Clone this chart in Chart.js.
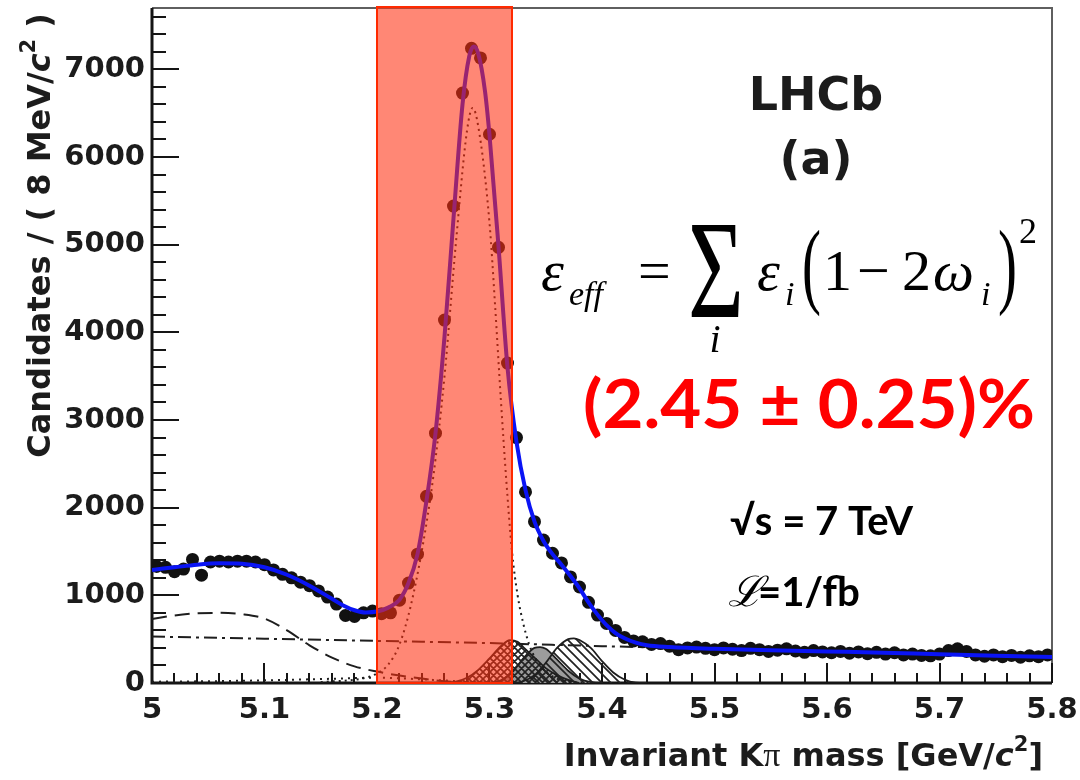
<!DOCTYPE html>
<html>
<head>
<meta charset="utf-8">
<title>B0 → Kπ mass spectrum</title>
<script src="https://cdn.jsdelivr.net/npm/chart.js@4.4.1/dist/chart.umd.min.js"></script>
<style>
  html, body { margin: 0; padding: 0; background: #fff; }
  #massChart { display: block; }
</style>
</head>
<body>
<canvas id="massChart" width="1080" height="780"></canvas>
<script>
// histogram binning (8 MeV bins from 5.0 GeV)
const binLow = 5.0;
const binWidth = 0.008;

// candidates per bin
const candidates = [
    1330, 1320, 1270, 1300, 1410, 1230, 1380, 1390, 1380, 1390, 1390, 1380, 1350,
    1290, 1240, 1200, 1150, 1110, 1050, 980, 900, 770, 760, 800, 820,
    790, 800, 945, 1140, 1470, 2130, 2850, 4140, 5440, 6730, 7240, 7130, 6260, 4970, 3650,
    2800, 2180, 1840, 1630, 1480, 1370, 1210, 1095, 920, 775, 680, 600, 520,
    480, 470, 440, 450, 420, 380, 400, 410, 395, 380, 400, 385, 370, 395, 380, 360,
    375, 390, 365, 350, 370, 355, 345, 360, 340, 355, 335, 350, 330, 345, 320, 330,
    315, 310, 330, 370, 390, 360, 320, 305, 320, 300, 315, 295, 310, 300, 320
];

// total fit
const fitMass = [5.00, 5.02, 5.04, 5.06, 5.08, 5.10, 5.12, 5.14, 5.16, 5.17, 5.18, 5.19, 5.20, 5.21, 5.22,
    5.228, 5.236, 5.244, 5.252, 5.26, 5.268, 5.276, 5.282, 5.286, 5.29, 5.296, 5.30, 5.308, 5.316,
    5.324, 5.332, 5.34, 5.348, 5.356, 5.364, 5.372, 5.38, 5.388, 5.396, 5.404, 5.412, 5.42, 5.43,
    5.44, 5.46, 5.50, 5.55, 5.60, 5.65, 5.70, 5.75, 5.80];
const fitValues = [1290, 1320, 1350, 1365, 1360, 1320, 1235, 1110, 960, 885, 830, 805, 815, 860, 950,
    1140, 1470, 2080, 2850, 3950, 5300, 6600, 7150, 7260, 7180, 6750, 6250, 4980, 3600,
    2750, 2200, 1840, 1620, 1470, 1350, 1220, 1080, 920, 780, 660, 570, 510, 460,
    430, 410, 390, 375, 360, 345, 328, 312, 296];

// B0 -> K pi signal (dotted)
const signalMass = [5.15, 5.19, 5.20, 5.21, 5.22, 5.23, 5.24, 5.25, 5.26, 5.27, 5.28, 5.285, 5.29,
    5.30, 5.305, 5.31, 5.315, 5.32, 5.325, 5.33, 5.335, 5.34, 5.35, 5.36, 5.37, 5.40];
const signalValues = [10, 60, 110, 210, 440, 880, 1520, 2350, 3500, 5000, 6300, 6560, 6350,
    5250, 4300, 3250, 2300, 1500, 1000, 680, 450, 300, 130, 50, 15, 0];

// partially reconstructed background (dashed)
const partRecoMass = [5.00, 5.02, 5.04, 5.06, 5.08, 5.10, 5.12, 5.14, 5.16, 5.18, 5.20, 5.22, 5.24, 5.26, 5.28];
const partRecoValues = [730, 770, 795, 800, 785, 735, 600, 430, 290, 190, 130, 85, 50, 20, 0];

// combinatorial background (dash-dot)
const combMass = [5.0, 5.1, 5.2, 5.3, 5.4, 5.5, 5.6, 5.7, 5.8];
const combValues = [530, 505, 480, 455, 420, 390, 360, 328, 296];

// three-body component (dotted, close to zero)
const threeBodyMass = [5.00, 5.05, 5.10, 5.15, 5.20, 5.25, 5.30];
const threeBodyValues = [15, 20, 30, 45, 60, 35, 0];

// peaking backgrounds
const crossPeakMass = [5.26, 5.27, 5.28, 5.29, 5.30, 5.31, 5.318, 5.325, 5.33, 5.34, 5.35, 5.36, 5.37, 5.38];
const crossPeakValues = [0, 15, 60, 150, 280, 420, 490, 470, 410, 290, 170, 90, 35, 0];
const grayPeakMass = [5.30, 5.31, 5.32, 5.33, 5.34, 5.345, 5.35, 5.36, 5.37, 5.38, 5.39, 5.40];
const grayPeakValues = [0, 30, 120, 280, 400, 410, 390, 270, 140, 50, 10, 0];
const hatchPeakMass = [5.32, 5.33, 5.34, 5.35, 5.36, 5.37, 5.375, 5.38, 5.39, 5.40, 5.41, 5.42, 5.43, 5.44];
const hatchPeakValues = [0, 20, 90, 230, 400, 500, 510, 490, 400, 250, 120, 40, 5, 0];

// axis ticks
const xTickValues = [5, 5.1, 5.2, 5.3, 5.4, 5.5, 5.6, 5.7, 5.8];
const xTickLabels = ['5', '5.1', '5.2', '5.3', '5.4', '5.5', '5.6', '5.7', '5.8'];
const yTickValues = [0, 1000, 2000, 3000, 4000, 5000, 6000, 7000];
const yTickLabels = ['0', '1000', '2000', '3000', '4000', '5000', '6000', '7000'];

// signal mass window
const windowLow = 5.2;
const windowHigh = 5.32;

const sans = '"DejaVu Sans", sans-serif';
const serif = '"Liberation Serif", "Times New Roman", serif';
const bodyFont = 'Lato, "Open Sans", sans-serif';

const toPoints = (xs, ys) => xs.map((x, i) => ({x, y: ys[i]}));
const candidatePoints = candidates.map((n, i) => ({x: binLow + binWidth * (i + 0.5), y: n}));

const canvas = document.getElementById('massChart');
const ctx = canvas.getContext('2d');

function hatchPattern(dirs, color, step) {
    const tile = document.createElement('canvas');
    tile.width = tile.height = step;
    const g = tile.getContext('2d');
    g.strokeStyle = color;
    g.lineWidth = 1.7;
    g.beginPath();
    if (dirs.includes('/')) {
        g.moveTo(-1, step + 1); g.lineTo(step + 1, -1);
        g.moveTo(-1, 1); g.lineTo(1, -1);
        g.moveTo(step - 1, step + 1); g.lineTo(step + 1, step - 1);
    }
    if (dirs.includes('\\')) {
        g.moveTo(-1, -1); g.lineTo(step + 1, step + 1);
        g.moveTo(step - 1, -1); g.lineTo(step + 1, 1);
        g.moveTo(-1, step - 1); g.lineTo(1, step + 1);
    }
    g.stroke();
    return ctx.createPattern(tile, 'repeat');
}

// no extra label padding: the plot frame is placed by the layout padding only
function noScalePadding(scale) {
    scale.paddingLeft = 0;
    scale.paddingRight = 0;
    scale.paddingTop = 0;
    scale.paddingBottom = 0;
}

// ROOT style frame with inward tick marks
const rootFrame = {
    id: 'rootFrame',
    beforeDatasetsDraw(chart) {
        const {ctx, chartArea: a, scales: {x, y}} = chart;
        ctx.save();
        ctx.strokeStyle = '#5f5f5f';
        ctx.lineWidth = 2;
        ctx.beginPath();
        ctx.moveTo(a.left, a.top);
        ctx.lineTo(a.right, a.top);
        ctx.lineTo(a.right, a.bottom);
        ctx.stroke();

        ctx.strokeStyle = '#151515';
        ctx.lineWidth = 2;
        ctx.beginPath();
        for (let i = 0; i <= 40; i++) {
            const px = Math.round(x.getPixelForValue(5 + i * 0.02));
            const len = i % 5 === 0 ? 20 : 10;
            ctx.moveTo(px, a.bottom);
            ctx.lineTo(px, a.bottom - len);
        }
        for (let v = 0; v <= 7600; v += 200) {
            const py = Math.round(y.getPixelForValue(v));
            const len = v % 1000 === 0 ? 27 : 14;
            ctx.moveTo(a.left, py);
            ctx.lineTo(a.left + len, py);
        }
        ctx.stroke();

        ctx.lineWidth = 3;
        ctx.beginPath();
        ctx.moveTo(a.left, a.top);
        ctx.lineTo(a.left, a.bottom);
        ctx.lineTo(a.right, a.bottom);
        ctx.stroke();
        ctx.restore();
    }
};

// translucent band over the signal window
const massWindow = {
    id: 'massWindow',
    afterDatasetsDraw(chart) {
        const {ctx, chartArea: a, scales: {x}} = chart;
        const xl = x.getPixelForValue(windowLow);
        const xr = x.getPixelForValue(windowHigh);
        ctx.save();
        ctx.fillStyle = 'rgba(255, 48, 18, 0.58)';
        ctx.fillRect(xl, a.top - 1, xr - xl, a.bottom - a.top + 1);
        ctx.strokeStyle = '#ff2a00';
        ctx.lineWidth = 2;
        ctx.strokeRect(xl, a.top - 1, xr - xl, a.bottom - a.top + 1);
        ctx.restore();
    }
};

function drawRun(ctx, parts, x, y) {
    let cx = x;
    parts.forEach(p => {
        ctx.font = p.font;
        ctx.fillText(p.text, cx, y - (p.rise || 0));
        cx += ctx.measureText(p.text).width;
    });
}

function runWidth(ctx, parts) {
    return parts.reduce((w, p) => {
        ctx.font = p.font;
        return w + ctx.measureText(p.text).width;
    }, 0);
}

function scaledText(ctx, text, x, y, sx, sy) {
    ctx.save();
    ctx.translate(x, y);
    ctx.scale(sx, sy);
    ctx.fillText(text, 0, 0);
    ctx.restore();
}

// axis titles, experiment label and the physics annotations
const annotations = {
    id: 'annotations',
    afterDraw(chart) {
        const {ctx} = chart;
        ctx.save();
        ctx.textBaseline = 'alphabetic';
        ctx.textAlign = 'left';
        ctx.fillStyle = '#1c1c1c';

        const bold = `bold 32px ${sans}`;
        const boldItalic = `italic bold 32px ${sans}`;
        const sup = `bold 21px ${sans}`;

        const xTitle = [
            {text: 'Invariant K', font: bold},
            {text: 'π', font: `34px ${serif}`},
            {text: ' mass [GeV/', font: bold},
            {text: 'c', font: boldItalic},
            {text: '2', font: sup, rise: 15},
            {text: ']', font: bold}
        ];
        drawRun(ctx, xTitle, 1043 - runWidth(ctx, xTitle), 766);

        const yTitle = [
            {text: 'Candidates / ( 8 MeV/', font: bold},
            {text: 'c', font: boldItalic},
            {text: '2', font: sup, rise: 15},
            {text: ' )', font: bold}
        ];
        ctx.save();
        ctx.translate(50, 13);
        ctx.rotate(-Math.PI / 2);
        drawRun(ctx, yTitle, -runWidth(ctx, yTitle), 0);
        ctx.restore();

        ctx.textAlign = 'center';
        ctx.font = `bold 46px ${sans}`;
        ctx.fillText('LHCb', 816, 110);
        ctx.fillText('(a)', 816, 174);

        // tagging power formula
        ctx.fillStyle = '#000';
        ctx.textAlign = 'left';
        ctx.font = `italic 58px ${serif}`;
        ctx.fillText('ε', 541, 290);
        ctx.font = `italic 34px ${serif}`;
        ctx.fillText('eff', 569, 305);
        ctx.font = `58px ${serif}`;
        ctx.fillText('=', 638, 290);
        ctx.font = `96px ${serif}`;
        scaledText(ctx, 'Σ', 688, 317, 1, 1.45);
        ctx.font = `italic 40px ${serif}`;
        ctx.textAlign = 'center';
        ctx.fillText('i', 715, 352);
        ctx.textAlign = 'left';
        ctx.font = `italic 58px ${serif}`;
        ctx.fillText('ε', 757, 290);
        ctx.font = `italic 34px ${serif}`;
        ctx.fillText('i', 785, 305);
        ctx.font = `95px ${serif}`;
        scaledText(ctx, '(', 802, 296, 0.6, 1);
        ctx.font = `58px ${serif}`;
        ctx.fillText('1', 823, 290);
        ctx.fillText('−', 857, 290);
        ctx.fillText('2', 902, 290);
        ctx.font = `italic 58px ${serif}`;
        ctx.fillText('ω', 933, 290);
        ctx.font = `italic 34px ${serif}`;
        ctx.fillText('i', 981, 305);
        ctx.font = `95px ${serif}`;
        scaledText(ctx, ')', 998, 296, 0.6, 1);
        ctx.font = `36px ${serif}`;
        ctx.fillText('2', 1019, 243);

        // result, stretched to its box width
        ctx.fillStyle = '#ff0000';
        ctx.font = `bold 66px ${bodyFont}`;
        const result = '(2.45 ± 0.25)%';
        const rw = ctx.measureText(result).width;
        scaledText(ctx, result, 583, 428, 452 / rw, 1);

        ctx.fillStyle = '#000';
        ctx.font = `bold 40px ${bodyFont}`;
        ctx.fillText('√s = 7 TeV', 730, 535);
        ctx.font = `italic 42px ${serif}`;
        ctx.fillText('ℒ', 728, 606);
        ctx.font = `bold 40px ${bodyFont}`;
        ctx.fillText('=1/fb', 758, 606);
        ctx.restore();
    }
};

const curve = (data, extra) => Object.assign({
    data,
    borderColor: '#1e1e1e',
    borderWidth: 2,
    pointRadius: 0,
    fill: false,
    cubicInterpolationMode: 'monotone'
}, extra);

new Chart(ctx, {
    type: 'line',
    data: {
        datasets: [
            curve(toPoints(fitMass, fitValues), {label: 'Fit', borderColor: '#0a14f5', borderWidth: 4, order: 0}),
            {
                label: 'Data',
                data: candidatePoints,
                showLine: false,
                pointRadius: 6.5,
                pointBackgroundColor: '#111',
                pointBorderWidth: 0,
                order: 1
            },
            curve(toPoints(signalMass, signalValues), {label: 'Signal', borderDash: [2, 4], order: 2}),
            curve(toPoints(combMass, combValues), {label: 'Combinatorial', borderDash: [13, 5, 3, 5], order: 3}),
            curve(toPoints(partRecoMass, partRecoValues), {label: 'Partially reconstructed', borderDash: [15, 8], order: 4}),
            curve(toPoints(threeBodyMass, threeBodyValues), {label: 'Three-body', borderDash: [2, 5], order: 5}),
            curve(toPoints(hatchPeakMass, hatchPeakValues), {
                label: 'Peak C', fill: 'origin', backgroundColor: hatchPattern('\\', '#222', 9), borderWidth: 1.8, order: 6
            }),
            curve(toPoints(crossPeakMass, crossPeakValues), {
                label: 'Peak A', fill: 'origin', backgroundColor: hatchPattern('/\\', '#222', 7), borderWidth: 1.8, order: 7
            }),
            curve(toPoints(grayPeakMass, grayPeakValues), {
                label: 'Peak B', fill: 'origin', backgroundColor: '#9c9c9c', borderWidth: 1.8, order: 8
            })
        ]
    },
    options: {
        responsive: false,
        animation: false,
        events: [],
        layout: {padding: {top: 8, right: 28, left: 0, bottom: 0}},
        plugins: {
            legend: {display: false},
            tooltip: {enabled: false}
        },
        scales: {
            x: {
                type: 'linear',
                min: 5,
                max: 5.8,
                afterFit: scale => { scale.height = 97; noScalePadding(scale); },
                afterBuildTicks: scale => { scale.ticks = xTickValues.map(value => ({value})); },
                grid: {display: false, drawTicks: false},
                border: {display: false},
                ticks: {
                    autoSkip: false,
                    maxRotation: 0,
                    padding: 10,
                    color: '#1c1c1c',
                    font: {family: 'DejaVu Sans', weight: 'bold', size: 29},
                    callback: (value, index) => xTickLabels[index]
                }
            },
            y: {
                type: 'linear',
                min: 0,
                max: 7700,
                afterFit: scale => { scale.width = 152; noScalePadding(scale); },
                afterBuildTicks: scale => { scale.ticks = yTickValues.map(value => ({value})); },
                grid: {display: false, drawTicks: false},
                border: {display: false},
                ticks: {
                    padding: 7,
                    color: '#1c1c1c',
                    font: {family: 'DejaVu Sans', weight: 'bold', size: 29},
                    callback: (value, index) => yTickLabels[index]
                }
            }
        }
    },
    plugins: [rootFrame, massWindow, annotations]
});
</script>
</body>
</html>
